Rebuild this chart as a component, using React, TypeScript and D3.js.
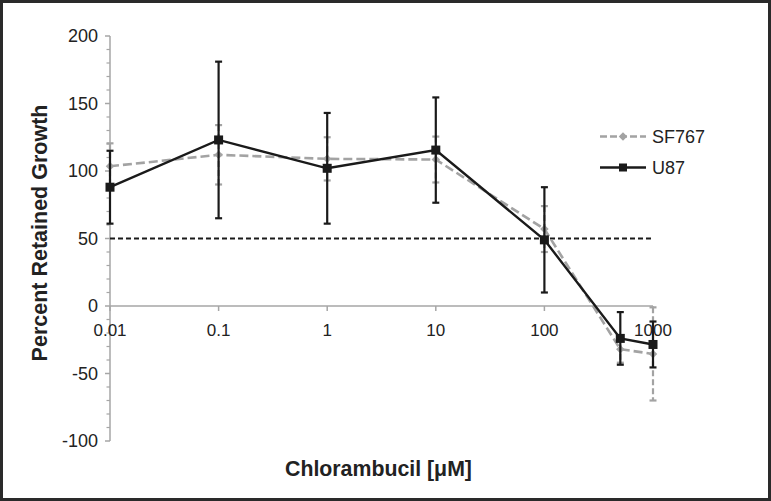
import React from "react";
import * as d3 from "d3";

const concentrations = [0.01, 0.1, 1, 10, 100, 500, 1000];
const sf767Values = [103.5, 112, 109, 108.5, 57, -32, -35.5];
const sf767Errors = [17, 22, 16, 17, 17, 10, 34.5];
const u87Values = [88, 123, 102, 115.5, 49, -24, -28.5];
const u87Errors = [27, 58, 41, 39, 39, 19.5, 17];
const xTicks = [0.01, 0.1, 1, 10, 100, 1000];
const yTicks = [-100, -50, 0, 50, 100, 150, 200];
const threshold = 50;

const W = 771;
const H = 501;

export default function App() {
  const x = d3.scaleLog().domain([0.01, 1000]).range([110, 653]);
  const y = d3.scaleLinear().domain([-100, 200]).range([441, 36]);
  const font = "Liberation Sans, Arial, sans-serif";
  const axisColor = "#a6a6a6";
  const gray = "#a3a3a3";
  const dark = "#1a1a1a";

  const line = d3
    .line<number>()
    .x((_, i) => x(concentrations[i]))
    .y((d) => y(d));

  const minorTicks = d3.range(-100, 201, 10).filter((v) => v % 50 !== 0);

  const errorBars = (vals: number[], errs: number[], color: string, dash?: string) =>
    vals.map((v, i) => {
      const cx = x(concentrations[i]);
      const t = y(v + errs[i]);
      const b = y(v - errs[i]);
      return (
        <g key={i} stroke={color} strokeWidth={2.2}>
          <line x1={cx} x2={cx} y1={t} y2={b} strokeDasharray={dash} />
          <line x1={cx - 3.5} x2={cx + 3.5} y1={t} y2={t} />
          <line x1={cx - 3.5} x2={cx + 3.5} y1={b} y2={b} />
        </g>
      );
    });

  return (
    <svg
      width={W}
      height={H}
      style={{ position: "absolute", left: 0, top: 0, background: "#fff" }}
      fontFamily={font}
    >
      <rect x={1.5} y={1.5} width={W - 3} height={H - 3} fill="#fff" stroke="#2a2a2a" strokeWidth={3} />

      {/* Y axis */}
      <line x1={x(0.01)} x2={x(0.01)} y1={y(200)} y2={y(-100)} stroke={axisColor} strokeWidth={1.5} />
      {yTicks.map((t) => (
        <g key={t}>
          <line x1={x(0.01) - 5} x2={x(0.01)} y1={y(t)} y2={y(t)} stroke={axisColor} strokeWidth={1.5} />
          <text x={x(0.01) - 12} y={y(t)} dy="0.35em" textAnchor="end" fontSize={18} fill="#222">
            {t}
          </text>
        </g>
      ))}
      {minorTicks.map((t) => (
        <line key={t} x1={x(0.01) - 3.5} x2={x(0.01)} y1={y(t)} y2={y(t)} stroke={axisColor} strokeWidth={1.2} />
      ))}

      {/* X axis at y=0 */}
      <line x1={x(0.01)} x2={x(1000)} y1={y(0)} y2={y(0)} stroke={axisColor} strokeWidth={1.5} />
      {xTicks.map((t) => (
        <g key={t}>
          <line x1={x(t)} x2={x(t)} y1={y(0)} y2={y(0) + 5} stroke={axisColor} strokeWidth={1.5} />
          <text x={x(t)} y={y(0) + 30} textAnchor="middle" fontSize={17} fill="#222">
            {String(t)}
          </text>
        </g>
      ))}

      {/* threshold */}
      <line
        x1={x(0.01)}
        x2={x(1000)}
        y1={y(threshold)}
        y2={y(threshold)}
        stroke={dark}
        strokeWidth={1.8}
        strokeDasharray="5,3"
      />

      {/* SF767 */}
      {errorBars(sf767Values, sf767Errors, gray, "6,3")}
      <path d={line(sf767Values) || ""} fill="none" stroke={gray} strokeWidth={2.6} strokeDasharray="9,4" />
      {sf767Values.map((v, i) => (
        <rect
          key={i}
          x={-3}
          y={-3}
          width={6}
          height={6}
          fill={gray}
          transform={`translate(${x(concentrations[i])},${y(v)}) rotate(45)`}
        />
      ))}

      {/* U87 */}
      {errorBars(u87Values, u87Errors, dark)}
      <path d={line(u87Values) || ""} fill="none" stroke={dark} strokeWidth={2.4} />
      {u87Values.map((v, i) => (
        <rect key={i} x={x(concentrations[i]) - 4.5} y={y(v) - 4.5} width={9} height={9} fill={dark} />
      ))}

      {/* Legend */}
      <g>
        <line x1={600} x2={646} y1={136.5} y2={136.5} stroke={gray} strokeWidth={2.6} strokeDasharray="7,3" />
        <rect x={-3} y={-3} width={6} height={6} fill={gray} transform="translate(623,136.5) rotate(45)" />
        <text x={652} y={143} fontSize={18} fill="#222">SF767</text>
        <line x1={600} x2={646} y1={167.5} y2={167.5} stroke={dark} strokeWidth={2.4} />
        <rect x={619} y={163.5} width={8} height={8} fill={dark} />
        <text x={652} y={173.5} fontSize={18} fill="#222">U87</text>
      </g>

      {/* Axis titles */}
      <text
        transform="translate(47,233) rotate(-90)"
        textAnchor="middle"
        fontSize={21.5}
        fontWeight="bold"
        fill="#222"
      >
        Percent Retained Growth
      </text>
      <text x={378.5} y={476} textAnchor="middle" fontSize={21.3} fontWeight="bold" fill="#222">
        Chlorambucil [μM]
      </text>
    </svg>
  );
}
